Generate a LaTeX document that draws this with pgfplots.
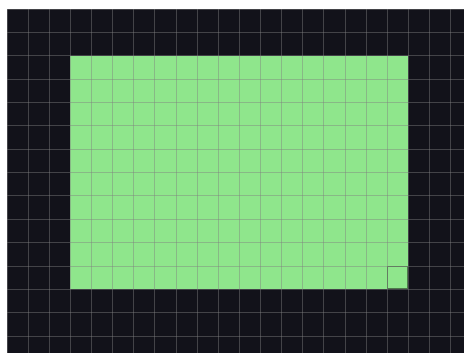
\documentclass[border=0pt]{standalone}
\usepackage{pgfplots}
\pgfplotsset{compat=1.18}
\definecolor{bgdark}{HTML}{12121A}
\definecolor{lgreen}{HTML}{8FE68C}
\definecolor{sqedge}{HTML}{4E7A4B}
\begin{document}
\begin{tikzpicture}[x=1pt,y=1pt]
\useasboundingbox[fill=white] (0,0) rectangle (464,353);
\begin{axis}[
  at={(7pt,0pt)}, anchor=south west,
  scale only axis, width=457pt, height=344pt,
  xmin=-3, xmax=18.64, ymin=-0.73, ymax=14,
  axis background/.style={fill=bgdark},
  axis line style={draw=none},
  axis on top,
  xtick={-3,...,18}, ytick={0,...,14},
  xticklabels={}, yticklabels={},
  major tick length=0pt,
  grid=major,
  major grid style={draw=gray, opacity=0.45, line width=0.7pt},
]
\addplot[fill=lgreen, draw=none] coordinates {(0,2) (16,2) (16,12) (0,12) (0,2)} -- cycle;
\addplot[draw=sqedge, line width=1.4pt, fill=lgreen] coordinates {(15.03,2.03) (15.97,2.03) (15.97,2.97) (15.03,2.97) (15.03,2.03)} -- cycle;
\end{axis}
\end{tikzpicture}
\end{document}
